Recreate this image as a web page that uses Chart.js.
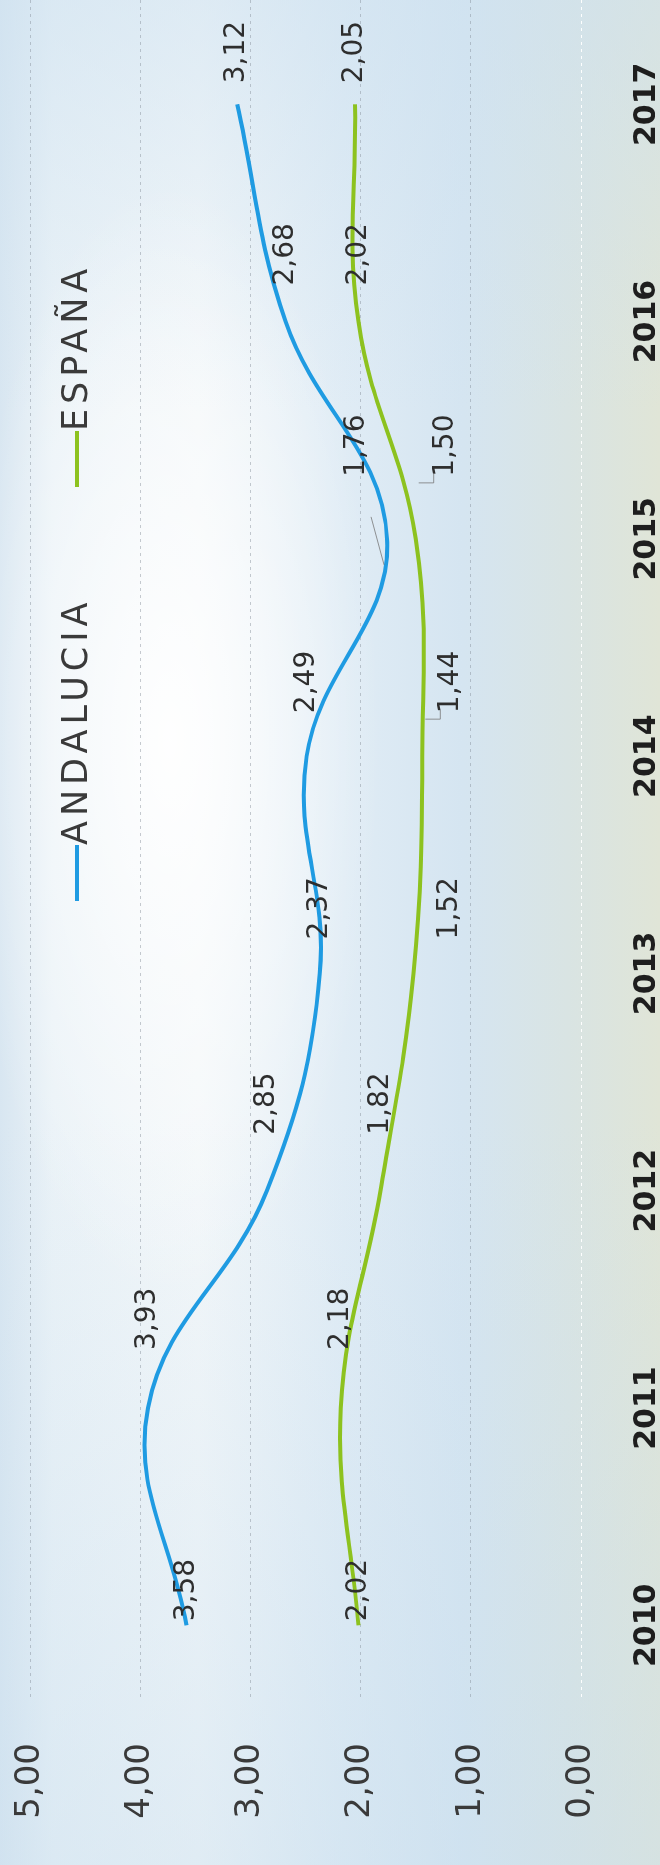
<!DOCTYPE html>
<html>
<head>
<meta charset="utf-8">
<script src="https://cdn.jsdelivr.net/npm/chart.js@4.4.1/dist/chart.umd.min.js"></script>
<style>
  html, body { margin: 0; padding: 0; }
  body {
    width: 660px; height: 1865px; overflow: hidden; position: relative;
    background:
      radial-gradient(ellipse 210px 560px at 170px 740px, rgba(255,255,255,0.95), rgba(255,255,255,0) 100%),
      linear-gradient(to bottom, rgba(205,225,240,0.55) 0%, rgba(255,255,255,0) 22%, rgba(255,255,255,0) 60%, rgba(200,222,238,0.45) 100%),
      linear-gradient(to right, #d8e6f1 0%, #eaf2f7 8%, #f3f7f9 30%, #e0ecf5 52%, #d5e5f1 70%, #d9e4e3 86%, #e0e5d7 100%);
  }
  #wrap {
    position: absolute; left: 0; top: 0; width: 1865px; height: 660px;
    transform-origin: 0 0; transform: translate(0, 1865px) rotate(-90deg);
  }
</style>
</head>
<body>
<div id="wrap"><canvas id="chart" width="1865" height="660"></canvas></div>
<script>
// ── Data ──────────────────────────────────────────────
const YEARS      = [2010, 2011, 2012, 2013, 2014, 2015, 2016, 2017];
const ANDALUCIA  = [3.58, 3.93, 2.85, 2.37, 2.49, 1.76, 2.68, 3.12];
const ESPANA     = [2.02, 2.18, 1.82, 1.52, 1.44, 1.50, 2.02, 2.05];
const VALUE_TICKS = [0, 1, 2, 3, 4, 5];

// ── Style ─────────────────────────────────────────────
const BLUE  = '#1f9be2';
const GREEN = '#8dc21f';
const TEXT  = '#2e2e2e';
// where each value label sits next to its point (px, in the unrotated chart)
const LABEL_GAP = [4, 58, 56, 34, 43, 62, 36, 21];
const LABEL_NUDGE = [
  [0, 0, 0, 0, 0, -30, 0, 0],
  [0, 0, 0, 36, 28, 30, 0, 0],
];
const LEADER = [
  [0, 0, 0, 0, 0, 1, 0, 0],
  [0, 0, 0, 0, 1, 1, 0, 0],
];

const fmt = v => v.toFixed(2).replace('.', ',');

Chart.defaults.font.family = '"DejaVu Sans"';
Chart.defaults.color = TEXT;

// ── Value labels + legend ─────────────────────────────
const labelsPlugin = {
  id: 'labels',
  afterDatasetsDraw(chart) {
    const ctx = chart.ctx;
    ctx.save();
    ctx.font = '28px "DejaVu Sans"';
    ctx.fillStyle = TEXT;
    ctx.textAlign = 'left';
    ctx.textBaseline = 'middle';
    chart.data.datasets.forEach((ds, di) => {
      chart.getDatasetMeta(di).data.forEach((pt, i) => {
        const dv = LABEL_NUDGE[di][i];
        const x = pt.x + LABEL_GAP[i], y = pt.y + dv;
        if (LEADER[di][i]) {
          ctx.strokeStyle = 'rgba(120,120,120,0.8)';
          ctx.lineWidth = 1;
          ctx.beginPath();
          if (dv > 0) {
            const a = x - 6;
            ctx.moveTo(a, pt.y + 3);
            ctx.lineTo(a, pt.y + 18);
            ctx.lineTo(a + 9, pt.y + 18);
          } else {
            ctx.moveTo(pt.x - 26, pt.y - 3);
            ctx.lineTo(pt.x + 22, pt.y + dv + 14);
          }
          ctx.stroke();
        }
        ctx.fillText(fmt(ds.data[i].y), x, y);
      });
    });

    // legend, drawn inside the plot like the original
    ctx.font = '35px "DejaVu Sans"';
    ctx.letterSpacing = '5px';
    ctx.fillStyle = '#3a3a3a';
    ctx.lineWidth = 4;
    [[BLUE, 'ANDALUCIA', 964], [GREEN, 'ESPAÑA', 1378]].forEach(([c, t, u]) => {
      ctx.strokeStyle = c;
      ctx.beginPath();
      ctx.moveTo(u, 77);
      ctx.lineTo(u + 56, 77);
      ctx.stroke();
      ctx.fillText(t, u + 56, 78);
    });
    ctx.restore();
  }
};

const series = vals => YEARS.map((y, i) => ({ x: y, y: vals[i] }));

new Chart(document.getElementById('chart').getContext('2d'), {
  type: 'line',
  data: {
    datasets: [
      { label: 'ANDALUCIA', data: series(ANDALUCIA), borderColor: BLUE,
        borderWidth: 4, tension: 0.4, pointRadius: 0, fill: false },
      { label: 'ESPAÑA', data: series(ESPANA), borderColor: GREEN,
        borderWidth: 4, tension: 0.4, pointRadius: 0, fill: false },
    ]
  },
  options: {
    responsive: false,
    animation: false,
    devicePixelRatio: 1,
    layout: { padding: { top: 30, left: 0, right: 0, bottom: 0 } },
    plugins: { legend: { display: false }, tooltip: { enabled: false } },
    scales: {
      x: {
        type: 'linear', min: 2009.67, max: 2017.48,
        afterBuildTicks: s => { s.ticks = YEARS.map(v => ({ value: v })); },
        afterFit: s => { s.height = 79; s.paddingLeft = 0; s.paddingRight = 0; },
        grid: { display: false },
        border: { display: false },
        ticks: { padding: 40, autoSkip: false, maxRotation: 0, color: '#1e1e1e',
                 font: { size: 30, weight: 'bold' }, callback: v => String(v) }
      },
      y: {
        min: 0, max: 5,
        afterBuildTicks: s => { s.ticks = VALUE_TICKS.map(v => ({ value: v })); },
        afterFit: s => { s.width = 168; s.paddingTop = 0; s.paddingBottom = 0; },
        grid: { drawTicks: false, lineWidth: 1,
                color: c => c.tick && c.tick.value === 0 ? 'rgba(255,255,255,0.95)' : 'rgba(130,140,150,0.45)' },
        border: { display: false, dash: [3, 4] },
        ticks: { padding: 46, color: '#3a3a3a', font: { size: 34 }, callback: v => fmt(v) }
      }
    }
  },
  plugins: [labelsPlugin]
});
</script>
</body>
</html>
